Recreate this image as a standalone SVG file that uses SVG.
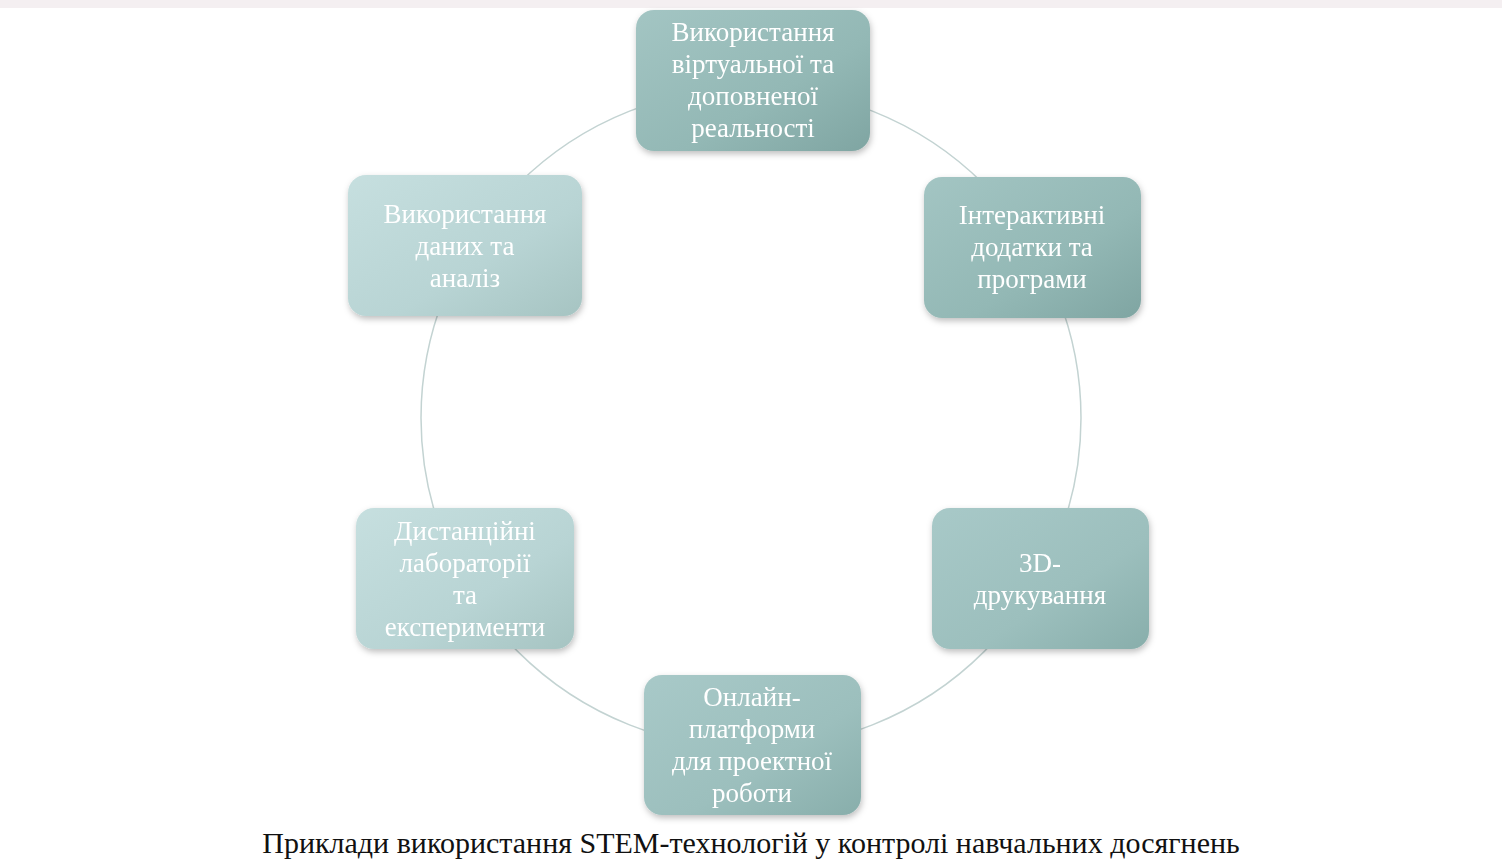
<svg xmlns="http://www.w3.org/2000/svg" width="1502" height="864" viewBox="0 0 1502 864">
<defs>
<linearGradient id="gd" x1="0" y1="0" x2="1" y2="1"><stop offset="0" stop-color="#a3c5c3"/><stop offset="0.6" stop-color="#93b8b5"/><stop offset="1" stop-color="#7fa5a2"/></linearGradient>
<linearGradient id="gm" x1="0" y1="0" x2="1" y2="1"><stop offset="0" stop-color="#a8c9c8"/><stop offset="0.6" stop-color="#9cbfbd"/><stop offset="1" stop-color="#88aeab"/></linearGradient>
<linearGradient id="gl" x1="0" y1="0" x2="1" y2="1"><stop offset="0" stop-color="#c6dfdf"/><stop offset="0.6" stop-color="#b8d4d4"/><stop offset="1" stop-color="#a6c4c2"/></linearGradient>
<filter id="sh" x="-10%" y="-10%" width="125%" height="130%"><feDropShadow dx="1" dy="3" stdDeviation="3" flood-color="#000" flood-opacity="0.25"/></filter>
<style>
.n{filter:url(#sh)}
.t{font-family:"Liberation Serif",serif;font-size:27px;fill:#fff;text-anchor:middle}
.c{font-family:"Liberation Serif",serif;font-size:30px;fill:#111;text-anchor:middle}
</style>
</defs>
<rect width="1502" height="864" fill="#fff"/>
<rect width="1502" height="8" fill="#f4eff1"/>
<g id="connectors"><circle cx="751" cy="418" r="330" fill="none" stroke="#c3d3d2" stroke-width="1.5"/></g>
<g id="n1" class="n"><rect x="636" y="10" width="234" height="141" rx="18" fill="url(#gd)"/>
<text class="t" x="753" y="41">Використання</text><text class="t" x="753" y="73">віртуальної та</text><text class="t" x="753" y="105">доповненої</text><text class="t" x="753" y="137">реальності</text></g>
<g id="n2" class="n"><rect x="924" y="177" width="217" height="141" rx="18" fill="url(#gd)"/>
<text class="t" x="1032" y="224">Інтерактивні</text><text class="t" x="1032" y="256">додатки та</text><text class="t" x="1032" y="288">програми</text></g>
<g id="n3" class="n"><rect x="932" y="508" width="217" height="141" rx="18" fill="url(#gm)"/>
<text class="t" x="1040" y="572">3D-</text><text class="t" x="1040" y="604">друкування</text></g>
<g id="n4" class="n"><rect x="644" y="675" width="217" height="140" rx="18" fill="url(#gm)"/>
<text class="t" x="752" y="706">Онлайн-</text><text class="t" x="752" y="738">платформи</text><text class="t" x="752" y="770">для проектної</text><text class="t" x="752" y="802">роботи</text></g>
<g id="n5" class="n"><rect x="356" y="508" width="218" height="141" rx="18" fill="url(#gl)"/>
<text class="t" x="465" y="540">Дистанційні</text><text class="t" x="465" y="572">лабораторії</text><text class="t" x="465" y="604">та</text><text class="t" x="465" y="636">експерименти</text></g>
<g id="n6" class="n"><rect x="348" y="175" width="234" height="141" rx="18" fill="url(#gl)"/>
<text class="t" x="465" y="223">Використання</text><text class="t" x="465" y="255">даних та</text><text class="t" x="465" y="287">аналіз</text></g>
<text class="c" x="751" y="853">Приклади використання STEM-технологій у контролі навчальних досягнень</text>
</svg>
